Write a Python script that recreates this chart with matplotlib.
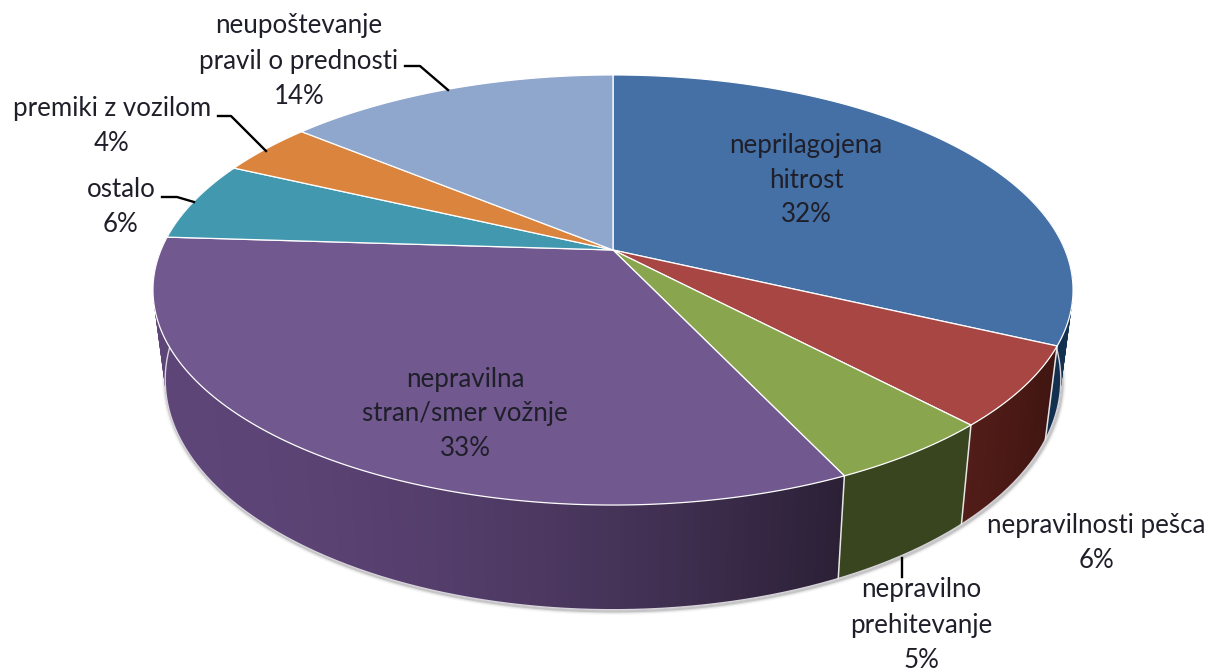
import numpy as np
import matplotlib
matplotlib.use("Agg")
import matplotlib.pyplot as plt
from matplotlib.collections import PolyCollection
from matplotlib.colors import to_rgb

# data, clockwise from 12 o'clock
labels = ["neprilagojena\nhitrost", "nepravilnosti pešca", "nepravilno\nprehitevanje",
          "nepravilna\nstran/smer vožnje", "ostalo", "premiki z vozilom",
          "neupoštevanje\npravil o prednosti"]
values = [32, 6, 5, 33, 6, 4, 14]

top_colors = ["#4470a6", "#a84644", "#89a54e", "#71588f", "#4198af", "#db843d", "#8fa6cd"]
side_left = ["#1a3a5e", "#3f1410", "#38451f", "#5e4578", "#24596a", "#8a4d1c", "#51698f"]
side_right = ["#14304f", "#521d18", "#38451f", "#2b2036", "#24596a", "#8a4d1c", "#51698f"]

label_pos = [(806, 180), (1096, 543), (921, 625), (465, 414), (121, 207), (112, 126), (299, 61)]

leaders = [None, None,
           [(902, 558), (902, 577)], None,
           [(162, 197), (177, 197), (194, 202)],
           [(218, 116), (231, 116), (266, 151)],
           [(405, 66), (420, 66), (448, 90)]]

plt.rcParams["font.family"] = ["Lato", "DejaVu Sans"]

# projected circles: top face and bottom rim of the disc
CX = 613
K = 0.186


def top_xy(t):
    u, v = np.sin(t), np.cos(t)
    d = 1 + K * v
    return CX + 452 * u / d, 250 - 207.6 * v / d


def bottom_xy(t):
    u, v = np.sin(t), np.cos(t)
    d = 1 + K * v
    return CX + 440 * u / d, 337 - 222 * v / d


fig = plt.figure(figsize=(12.06, 6.72), dpi=100)
ax = fig.add_axes([0, 0, 1, 1])
ax.set_xlim(0, 1206)
ax.set_ylim(672, 0)
ax.axis("off")

edges = np.cumsum([0] + values) / sum(values) * 2 * np.pi

# soft shadow under the rim
tt = np.linspace(np.pi * 0.45, np.pi * 1.55, 400)
bx, by = bottom_xy(tt)
for lw, a in [(6, 0.06), (4, 0.12), (2.5, 0.2)]:
    ax.plot(bx + 1, by + 1, color="#555555", lw=lw, alpha=a, zorder=1, solid_capstyle="round")

# side wall, overlapping strips so that the shade can change along the slice
for i in range(len(values)):
    ts = np.linspace(edges[i], edges[i + 1], 200)
    polys = []
    cols = []
    c0, c1 = np.array(to_rgb(side_left[i])), np.array(to_rgb(side_right[i]))
    for j in range(len(ts) - 1):
        if np.cos(ts[j]) > 0.3:
            continue
        k = min(j + 3, len(ts) - 1)
        x1, y1 = top_xy(ts[j])
        x2, y2 = top_xy(ts[k])
        x3, y3 = bottom_xy(ts[k])
        x4, y4 = bottom_xy(ts[j])
        polys.append([(x1, y1), (x2, y2), (x3, y3), (x4, y4)])
        f = min(max((x4 - 165) / (840 - 165), 0), 1)
        if i == 3:
            cols.append(c0 * (1 - f ** 1.8) + c1 * f ** 1.8)
        else:
            cols.append(c0 + (c1 - c0) * j / len(ts))
    ax.add_collection(PolyCollection(polys, facecolors=cols, linewidths=0, zorder=2))

# rim highlight and joints between slices
ax.plot(bx, by, color="#d8d4dc", lw=1, zorder=3)
for e in edges[1:4]:
    x1, y1 = top_xy(e)
    x2, y2 = bottom_xy(e)
    ax.plot([x1, x2], [y1, y2], color="#e6e6e6", lw=1.1, zorder=3)

# top face
for i in range(len(values)):
    ts = np.linspace(edges[i], edges[i + 1], 200)
    x, y = top_xy(ts)
    ax.fill(np.r_[CX, x], np.r_[250, y], facecolor=top_colors[i], edgecolor="white", lw=0.9, zorder=4)

for lab, v, (x, y), ln in zip(labels, values, label_pos, leaders):
    ax.text(x, y, f"{lab}\n{v}%", ha="center", va="center", ma="center", fontsize=18.6,
            color="#1f1f2a", linespacing=1.5, zorder=6, clip_on=False)
    if ln:
        ax.plot([p[0] for p in ln], [p[1] for p in ln], color="black", lw=1.7, zorder=5)

fig.savefig("out.png", dpi=100)
